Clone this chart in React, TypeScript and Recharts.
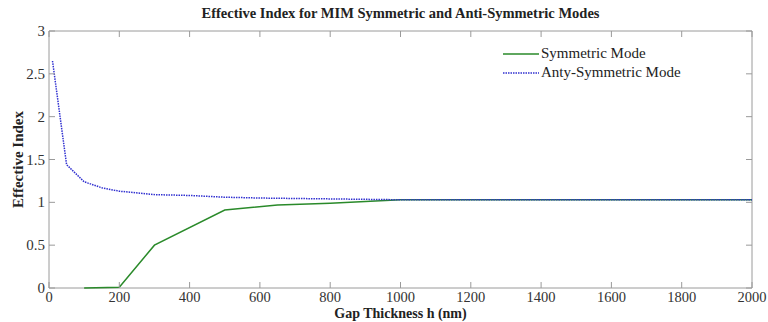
import { LineChart, Line, XAxis, YAxis, ReferenceArea, Label } from "recharts";

// Symmetric mode (green, solid)
const symH = [100, 200, 300, 500, 650, 800, 1000, 1200, 1400, 1600, 1800, 2000];
const symN = [0, 0.01, 0.5, 0.91, 0.97, 0.99, 1.03, 1.03, 1.03, 1.03, 1.03, 1.03];

// Anti-symmetric mode (blue, dotted)
const antiH = [10, 50, 100, 150, 200, 300, 400, 500, 600, 800, 1000, 1200, 1400, 1600, 1800, 2000];
const antiN = [2.65, 1.44, 1.24, 1.17, 1.13, 1.09, 1.08, 1.06, 1.05, 1.04, 1.03, 1.03, 1.03, 1.03, 1.03, 1.03];

const xTicks = [0, 200, 400, 600, 800, 1000, 1200, 1400, 1600, 1800, 2000];
const yTicks = [0, 0.5, 1, 1.5, 2, 2.5, 3];

const symData = symH.map((h, i) => ({ h, n: symN[i] }));
const antiData = antiH.map((h, i) => ({ h, n: antiN[i] }));

const W = 768;
const H = 322;
const M = { top: 31, right: 16, bottom: 0, left: 0 };
const Y_W = 49;
const X_H = 34;
const TOP = M.top;
const BOTTOM = H - X_H;
const LEFT = Y_W;
const RIGHT = W - M.right;

const FONT = "'Liberation Serif', serif";
const AXIS = "#9a9a9a";
const TXT = "#333";
const GREEN = "#2a8a2a";
const BLUE = "#3030d0";

const XTick = (props: any) => {
  const { x, payload } = props;
  return (
    <g>
      <line x1={x} x2={x} y1={BOTTOM} y2={BOTTOM - 6} stroke={AXIS} />
      <line x1={x} x2={x} y1={TOP} y2={TOP + 6} stroke={AXIS} />
      <text x={x} y={BOTTOM + 13.5} textAnchor="middle" fontSize={14.5} fill={TXT} fontFamily={FONT}>
        {payload.value}
      </text>
    </g>
  );
};

const YTick = (props: any) => {
  const { y, payload } = props;
  return (
    <g>
      <line x1={LEFT} x2={LEFT + 6} y1={y} y2={y} stroke={AXIS} />
      <line x1={RIGHT} x2={RIGHT - 6} y1={y} y2={y} stroke={AXIS} />
      <text x={45} y={y + 5} textAnchor="end" fontSize={15} fill={TXT} fontFamily={FONT}>
        {payload.value}
      </text>
    </g>
  );
};

const XLabel = (props: any) => {
  const { viewBox } = props;
  return (
    <text
      x={viewBox.x + viewBox.width / 2}
      y={H - 4}
      textAnchor="middle"
      fontFamily={FONT}
      fontWeight="bold"
      fontSize={14}
      fill="#222"
    >
      Gap Thickness h (nm)
    </text>
  );
};

const legendItems = [
  { name: "Symmetric Mode", color: GREEN, dash: undefined as string | undefined },
  { name: "Anty-Symmetric Mode", color: BLUE, dash: "1.5 1" },
];

export default function App() {
  return (
    <div style={{ position: "absolute", left: 0, top: 0, width: W, height: H, background: "#fff" }}>
      <div
        style={{
          position: "absolute",
          top: 5,
          left: LEFT,
          width: RIGHT - LEFT,
          textAlign: "center",
          fontFamily: FONT,
          fontWeight: "bold",
          fontSize: 14.5,
          color: "#222",
        }}
      >
        Effective Index for MIM Symmetric and Anti-Symmetric Modes
      </div>
      <LineChart width={W} height={H} margin={M}>
        <XAxis
          type="number"
          dataKey="h"
          domain={[0, 2000]}
          ticks={xTicks}
          allowDataOverflow
          height={X_H}
          axisLine={false}
          tickLine={false}
          tick={<XTick />}
          interval={0}
        >
          <Label content={<XLabel />} />
        </XAxis>
        <YAxis
          type="number"
          domain={[0, 3]}
          ticks={yTicks}
          width={Y_W}
          axisLine={false}
          tickLine={false}
          tick={<YTick />}
          interval={0}
        >
          <Label
            value="Effective Index"
            angle={-90}
            position="insideLeft"
            offset={18}
            style={{ fontFamily: FONT, fontWeight: "bold", fontSize: 15, fill: "#222", textAnchor: "middle" }}
          />
        </YAxis>
        <ReferenceArea x1={0} x2={2000} y1={0} y2={3} fill="none" stroke={AXIS} strokeWidth={1} ifOverflow="visible" />
        <Line
          data={symData}
          dataKey="n"
          name="Symmetric Mode"
          stroke={GREEN}
          strokeWidth={1.5}
          dot={false}
          isAnimationActive={false}
        />
        <Line
          data={antiData}
          dataKey="n"
          name="Anty-Symmetric Mode"
          stroke={BLUE}
          strokeWidth={1.5}
          strokeDasharray="1.5 1"
          dot={false}
          isAnimationActive={false}
        />
      </LineChart>
      <div
        style={{
          position: "absolute",
          top: 44,
          left: 503,
          fontFamily: FONT,
          fontSize: 15,
          color: "#222",
          lineHeight: "19px",
        }}
      >
        {legendItems.map((it) => (
          <div key={it.name} style={{ display: "flex", alignItems: "center" }}>
            <svg width={36} height={4}>
              <line x1={0} x2={36} y1={2} y2={2} stroke={it.color} strokeWidth={1.5} strokeDasharray={it.dash} />
            </svg>
            <span style={{ marginLeft: 2 }}>{it.name}</span>
          </div>
        ))}
      </div>
    </div>
  );
}
